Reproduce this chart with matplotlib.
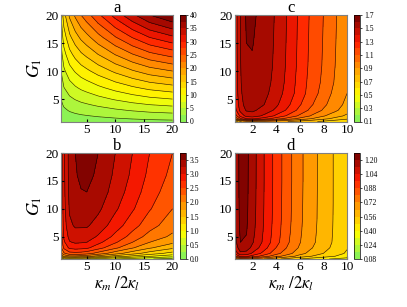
import numpy as np
import matplotlib
matplotlib.use("Agg")
import matplotlib.pyplot as plt
from matplotlib.colors import LinearSegmentedColormap

plt.rcParams['font.family'] = ['Liberation Serif', 'DejaVu Serif']
plt.rcParams['mathtext.fontset'] = 'stix'

# grids (kappa_m / 2 kappa_l  and  G_1)
x_ab = [0.5, 1, 2, 3, 4, 5, 7, 10, 13, 16, 20]
g_ab = [1, 1.5, 2, 3, 4, 5, 7, 10, 13, 16, 20]
x_cd = [0.5, 1, 1.5, 2, 3, 4, 5, 6, 7, 8, 9, 10]
g_cd = [1, 1.5, 2, 3, 4, 6, 8, 11, 15, 20]

# values, rows = G_1, columns = kappa ratio
z_a = [
    [0.5, 0.7, 0.9, 1.03, 1.13, 1.2, 1.35, 1.55, 1.73, 1.88, 2.0],
    [0.75, 1.05, 1.35, 1.54, 1.69, 1.8, 2.03, 2.33, 2.59, 2.81, 3.0],
    [1.0, 1.4, 1.8, 2.05, 2.25, 2.4, 2.7, 3.1, 3.45, 3.75, 4.0],
    [1.5, 2.1, 2.7, 3.08, 3.38, 3.6, 4.05, 4.65, 5.18, 5.63, 6.0],
    [2.0, 2.8, 3.6, 4.1, 4.5, 4.8, 5.4, 6.2, 6.9, 7.5, 8.0],
    [2.5, 3.5, 4.5, 5.13, 5.63, 6.0, 6.75, 7.75, 8.63, 9.38, 10.0],
    [3.5, 4.9, 6.3, 7.18, 7.88, 8.4, 9.45, 10.85, 12.08, 13.13, 14.0],
    [5.0, 7.0, 9.0, 10.25, 11.25, 12.0, 13.5, 15.5, 17.25, 18.75, 20.0],
    [6.5, 9.1, 11.7, 13.33, 14.63, 15.6, 17.55, 20.15, 22.43, 24.38, 26.0],
    [8.0, 11.2, 14.4, 16.4, 18.0, 19.2, 21.6, 24.8, 27.6, 30.0, 32.0],
    [10.0, 14.0, 18.0, 20.5, 22.5, 24.0, 27.0, 31.0, 34.5, 37.5, 40.0],
]
z_b = [
    [0.7, 1.0, 1.15, 1.1, 1.05, 1.0, 0.9, 0.75, 0.62, 0.52, 0.4],
    [1.5, 1.8, 1.95, 1.95, 1.9, 1.85, 1.65, 1.4, 1.2, 1.02, 0.85],
    [1.9, 2.2, 2.4, 2.42, 2.4, 2.35, 2.15, 1.85, 1.6, 1.38, 1.15],
    [2.2, 2.55, 2.8, 2.85, 2.83, 2.8, 2.6, 2.3, 2.02, 1.78, 1.55],
    [2.3, 2.7, 2.98, 3.03, 3.02, 3.0, 2.82, 2.53, 2.25, 2.0, 1.8],
    [2.35, 2.78, 3.08, 3.14, 3.13, 3.12, 2.97, 2.68, 2.4, 2.15, 1.95],
    [2.4, 2.86, 3.2, 3.28, 3.28, 3.28, 3.15, 2.87, 2.6, 2.35, 2.1],
    [2.42, 2.91, 3.28, 3.39, 3.41, 3.42, 3.3, 3.04, 2.78, 2.52, 2.25],
    [2.44, 2.93, 3.32, 3.45, 3.49, 3.5, 3.4, 3.14, 2.88, 2.62, 2.35],
    [2.45, 2.94, 3.34, 3.48, 3.54, 3.56, 3.46, 3.2, 2.95, 2.69, 2.43],
    [2.45, 2.95, 3.35, 3.5, 3.57, 3.6, 3.5, 3.25, 3.0, 2.75, 2.5],
]
z_c = [
    [0.6, 0.78, 0.88, 0.9, 0.88, 0.84, 0.8, 0.76, 0.72, 0.68, 0.64, 0.6],
    [0.98, 1.18, 1.3, 1.32, 1.25, 1.15, 1.06, 0.97, 0.9, 0.83, 0.77, 0.72],
    [1.12, 1.33, 1.43, 1.45, 1.38, 1.28, 1.18, 1.08, 0.99, 0.91, 0.84, 0.78],
    [1.24, 1.43, 1.51, 1.52, 1.46, 1.38, 1.28, 1.17, 1.07, 0.99, 0.92, 0.84],
    [1.28, 1.46, 1.54, 1.55, 1.5, 1.42, 1.32, 1.21, 1.11, 1.02, 0.95, 0.87],
    [1.3, 1.48, 1.56, 1.57, 1.53, 1.45, 1.36, 1.25, 1.15, 1.06, 0.97, 0.9],
    [1.31, 1.49, 1.57, 1.58, 1.54, 1.47, 1.37, 1.26, 1.16, 1.08, 0.99, 0.91],
    [1.315, 1.495, 1.585, 1.59, 1.55, 1.48, 1.38, 1.27, 1.17, 1.09, 1.0, 0.92],
    [1.32, 1.5, 1.6, 1.605, 1.555, 1.485, 1.385, 1.275, 1.175, 1.095, 1.005, 0.925],
    [1.32, 1.5, 1.615, 1.62, 1.56, 1.49, 1.39, 1.28, 1.18, 1.1, 1.01, 0.93],
]
z_d = [
    [0.6, 0.7, 0.72, 0.7, 0.64, 0.58, 0.53, 0.48, 0.44, 0.41, 0.39, 0.37],
    [0.85, 0.98, 0.98, 0.93, 0.84, 0.75, 0.68, 0.61, 0.56, 0.52, 0.48, 0.44],
    [0.97, 1.1, 1.09, 1.03, 0.93, 0.83, 0.75, 0.67, 0.61, 0.56, 0.51, 0.47],
    [1.05, 1.17, 1.16, 1.1, 0.99, 0.88, 0.79, 0.71, 0.645, 0.59, 0.535, 0.485],
    [1.08, 1.2, 1.19, 1.13, 1.02, 0.91, 0.81, 0.725, 0.66, 0.6, 0.545, 0.495],
    [1.1, 1.215, 1.205, 1.145, 1.03, 0.92, 0.82, 0.732, 0.665, 0.605, 0.548, 0.498],
    [1.11, 1.222, 1.212, 1.152, 1.035, 0.925, 0.825, 0.736, 0.668, 0.608, 0.549, 0.499],
    [1.115, 1.226, 1.216, 1.156, 1.038, 0.928, 0.828, 0.738, 0.669, 0.609, 0.55, 0.5],
    [1.12, 1.228, 1.218, 1.158, 1.04, 0.93, 0.83, 0.74, 0.67, 0.61, 0.55, 0.5],
    [1.12, 1.23, 1.22, 1.16, 1.04, 0.93, 0.83, 0.74, 0.67, 0.61, 0.55, 0.5],
]

cb_ticks_a = [0, 5, 10, 15, 20, 25, 30, 35, 40]
cb_ticks_b = [0.0, 0.5, 1.0, 1.5, 2.0, 2.5, 3.0, 3.5]
cb_ticks_c = [0.1, 0.3, 0.5, 0.7, 0.9, 1.1, 1.3, 1.5, 1.7]
cb_ticks_d = [0.08, 0.24, 0.40, 0.56, 0.72, 0.88, 1.04, 1.20]

cmap = LinearSegmentedColormap.from_list(
    "gyr", [(0.0, "#7cf060"), (0.25, "#ffff00"), (0.5, "#ff9a00"),
            (0.75, "#ff1a00"), (1.0, "#700000")])

W, H = 407, 307
fig = plt.figure(figsize=(W / 100, H / 100), dpi=100)


def panel(px, py, pw, ph, x, g, z, levels, cbt, fmt, title, xticks,
          ylabel=True, xlabel=False):
    ax = fig.add_axes([px / W, 1 - (py + ph) / H, pw / W, ph / H])
    cs = ax.contourf(x, g, z, levels=levels, cmap=cmap)
    ax.contour(x, g, z, levels=levels, colors='k', linewidths=0.45, alpha=0.8)
    ax.set_xlim(x[0], x[-1])
    ax.set_ylim(1, 20)
    ax.set_xticks(xticks)
    ax.set_yticks([5, 10, 15, 20])
    ax.tick_params(labelsize=9.5, length=2, direction='in', pad=1.5)
    for s in ax.spines.values():
        s.set_color('#808080')
        s.set_linewidth(0.8)
    # panel letter, baseline a few pixels above the frame
    fig.text((px + pw / 2) / W, 1 - (py - 3) / H, title, fontsize=12,
             ha='center', va='baseline')
    if ylabel:
        ax.set_ylabel(r'$G_1$', fontsize=13, labelpad=1)
    if xlabel:
        ax.set_xlabel(r'$\kappa_m\ /2\kappa_l$', fontsize=12, labelpad=1)
    cax = fig.add_axes([(px + pw + 7) / W, 1 - (py + ph) / H, 6 / W, ph / H])
    cb = fig.colorbar(cs, cax=cax, ticks=cbt)
    cb.ax.set_yticklabels([fmt.format(t) for t in cbt])
    cb.ax.tick_params(labelsize=5.5, length=1.5, width=0.5, pad=1.5)
    cb.outline.set_linewidth(0.5)
    return ax


panel(61, 15, 111.5, 106.5, x_ab, g_ab, z_a, np.linspace(0, 40, 17),
      cb_ticks_a, "{:g}", "a", [5, 10, 15, 20])
panel(61, 153, 111.5, 106, x_ab, g_ab, z_b, np.linspace(0, 3.75, 16),
      cb_ticks_b, "{:.1f}", "b", [5, 10, 15, 20], xlabel=True)
panel(234.5, 15, 112.5, 106.5, x_cd, g_cd, z_c, np.linspace(0.1, 1.7, 17),
      cb_ticks_c, "{:.1f}", "c", [2, 4, 6, 8, 10], ylabel=False)
panel(234.5, 153, 112.5, 106, x_cd, g_cd, z_d, np.linspace(0.08, 1.28, 16),
      cb_ticks_d, "{:.2f}", "d", [2, 4, 6, 8, 10], ylabel=False, xlabel=True)

fig.savefig("out.png", dpi=100)
